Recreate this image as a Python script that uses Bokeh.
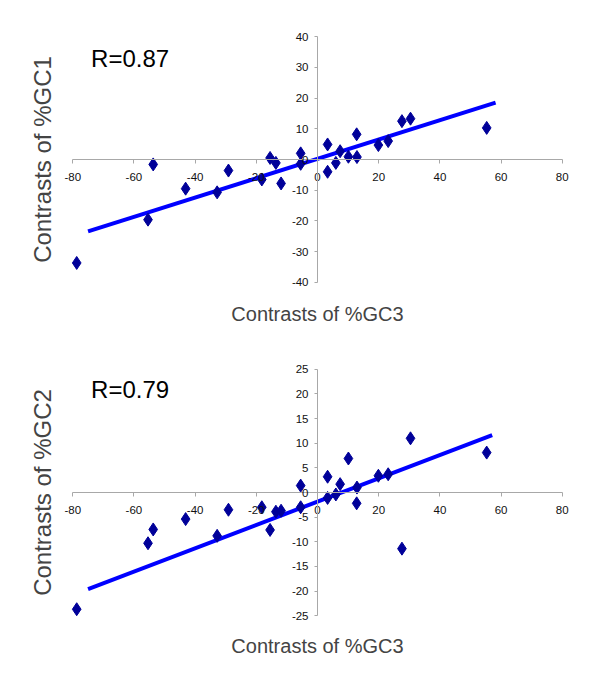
from bokeh.plotting import figure
from bokeh.layouts import column
from bokeh.models import FixedTicker, Label, Title, Range1d
from bokeh.embed import file_html
from bokeh.resources import INLINE

# ---- data ----
gc3 = [-78.7, -55.4, -53.7, -43.1, -32.8, -29.1, -18.2, -15.5, -13.6, -11.9,
       -5.5, -5.5, 3.3, 3.3, 6.0, 7.4, 10.1, 12.8, 12.9, 19.9, 23.1, 27.6, 30.4, 55.3]
gc1 = [-33.7, -19.6, -1.6, -9.5, -10.7, -3.6, -6.5, 0.5, -1.1, -7.8,
       2.0, -1.4, 4.9, -4.0, -1.1, 2.7, 0.9, 8.2, 0.8, 4.7, 6.0, 12.5, 13.3, 10.3]
gc2 = [-23.7, -10.3, -7.5, -5.4, -8.8, -3.5, -3.0, -7.6, -3.9, -3.7,
       1.4, -3.0, 3.2, -1.1, -0.4, 1.7, 6.9, -2.2, 1.0, 3.4, 3.7, -11.4, 11.0, 8.1]

trend1_x = [-75.0, 58.2]
trend1_y = [-23.4, 18.5]
trend2_x = [-75.0, 57.1]
trend2_y = [-19.6, 11.65]

x_ticks = [-80, -60, -40, -20, 0, 20, 40, 60, 80]
y1_ticks = [-40, -30, -20, -10, 0, 10, 20, 30, 40]
y2_ticks = [-25, -20, -15, -10, -5, 0, 5, 10, 15, 20, 25]

r1_text = "R=0.87"
r2_text = "R=0.79"
y1_label = "Contrasts of %GC1"
y2_label = "Contrasts of %GC2"
x_label = "Contrasts of %GC3"

FONT = "Liberation Sans"
MARK = "#000099"
LINE = "#0000FF"
AXIS = "#A8A8A8"


def make_plot(yvals, tx, ty, yticks, ylim, ypad, rtext, rpos, ylab,
              height, top, bottom, xstand):
    p = figure(width=600, height=height, output_backend="svg", toolbar_location=None,
               x_range=Range1d(-84, 84), y_range=Range1d(-ylim - ypad, ylim + ypad),
               min_border_left=60, min_border_right=26,
               min_border_top=top, min_border_bottom=bottom)
    p.outline_line_color = None
    p.grid.visible = False
    p.background_fill_color = "white"
    p.border_fill_color = "white"

    p.xaxis.fixed_location = 0
    p.yaxis.fixed_location = 0
    p.xaxis.bounds = (-80, 80)
    p.yaxis.bounds = (-ylim, ylim)
    p.xaxis.ticker = FixedTicker(ticks=x_ticks)
    p.yaxis.ticker = FixedTicker(ticks=yticks)
    p.xaxis.major_label_overrides = {t: str(t) for t in x_ticks}
    p.yaxis.major_label_overrides = {t: str(t) for t in yticks}
    for ax in (p.xaxis, p.yaxis):
        ax.axis_line_color = AXIS
        ax.major_tick_line_color = AXIS
        ax.minor_tick_line_color = None
        ax.major_tick_in = 0
        ax.major_label_text_font = FONT
        ax.major_label_text_font_size = "11.5px"
        ax.major_label_text_color = "#111111"
    p.xaxis.major_tick_out = 4
    p.xaxis.major_label_standoff = 9
    p.yaxis.major_tick_out = 3
    p.yaxis.major_label_standoff = 6

    p.line(tx, ty, line_color=LINE, line_width=4)
    p.scatter(gc3, yvals, marker="diamond", size=13, fill_color=MARK,
              line_color=MARK, line_width=1)

    p.add_layout(Label(x=rpos[0], y=rpos[1], text=rtext, text_font=FONT,
                       text_font_size="24px", text_color="black",
                       text_baseline="middle"))
    p.add_layout(Title(text=ylab, align="center", text_font=FONT,
                       text_font_size="24px", text_font_style="normal",
                       standoff=10), "left")
    p.add_layout(Title(text=x_label, align="center", text_font=FONT,
                       text_font_size="20px", text_font_style="normal",
                       standoff=xstand), "below")
    return p


p1 = make_plot(gc1, trend1_x, trend1_y, y1_ticks, 40, 3, r1_text, (-74, 32.9),
               y1_label, 342, 27, 51, 19)
p2 = make_plot(gc2, trend2_x, trend2_y, y2_ticks, 25, 2, r2_text, (-74, 21.0),
               y2_label, 340, 17, 57, 14)

layout = column(p1, p2, spacing=0)
open("out.html", "w").write(file_html(layout, INLINE))
